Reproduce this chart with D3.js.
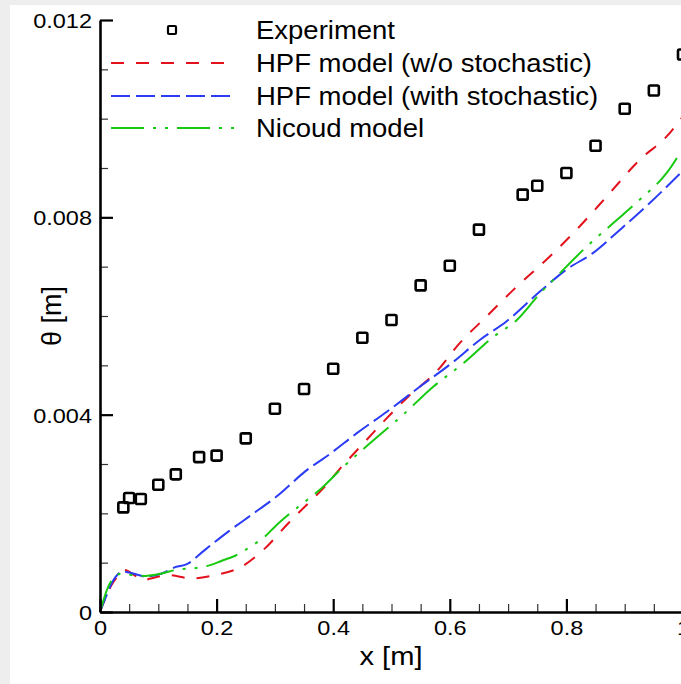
<!DOCTYPE html>
<html>
<head>
<meta charset="utf-8">
<script src="https://cdn.jsdelivr.net/npm/d3@7"></script>
<style>
body { margin: 0; background: #fff; }
svg { display: block; font-family: "Liberation Sans", Arial, sans-serif; }
</style>
</head>
<body>
<div class="chart"></div>
<script>
// experiment (squares)
var expX = [0.04, 0.05, 0.07, 0.1, 0.13, 0.17, 0.2, 0.25, 0.3, 0.35, 0.4, 0.45, 0.5, 0.55, 0.6, 0.65, 0.725, 0.75, 0.8, 0.85, 0.9, 0.95, 1.0];
var expY = [2.12, 2.31, 2.29, 2.58, 2.79, 3.14, 3.17, 3.52, 4.12, 4.52, 4.93, 5.56, 5.92, 6.62, 7.02, 7.75, 8.46, 8.64, 8.9, 9.45, 10.2, 10.57, 11.3];

// HPF model (w/o stochastic)
var redX = [0, 0.01, 0.02, 0.03, 0.042, 0.06, 0.074, 0.094, 0.117, 0.157, 0.197, 0.243, 0.283, 0.323, 0.363, 0.38, 0.415, 0.452, 0.492, 0.529, 0.577, 0.617, 0.663, 0.709, 0.778, 0.823, 0.869, 0.926, 0.972, 1.0];
var redY = [0, 0.3, 0.55, 0.72, 0.85, 0.74, 0.65, 0.7, 0.75, 0.68, 0.75, 0.92, 1.29, 1.8, 2.27, 2.47, 2.95, 3.42, 3.93, 4.37, 4.87, 5.45, 5.99, 6.53, 7.28, 7.82, 8.42, 9.17, 9.64, 10.05];

// HPF model (with stochastic)
var blueX = [0, 0.01, 0.02, 0.04, 0.057, 0.077, 0.106, 0.129, 0.149, 0.18, 0.22, 0.26, 0.306, 0.352, 0.394, 0.44, 0.492, 0.549, 0.606, 0.652, 0.697, 0.755, 0.8, 0.846, 0.892, 0.943, 1.0];
var blueY = [0, 0.3, 0.58, 0.82, 0.78, 0.72, 0.78, 0.91, 0.97, 1.26, 1.63, 1.97, 2.37, 2.85, 3.2, 3.62, 4.06, 4.57, 5.07, 5.52, 5.89, 6.5, 6.94, 7.28, 7.75, 8.29, 8.95];

// Nicoud model
var greenX = [0, 0.014, 0.026, 0.034, 0.054, 0.077, 0.106, 0.129, 0.169, 0.189, 0.209, 0.232, 0.26, 0.283, 0.3, 0.323, 0.352, 0.38, 0.412, 0.463, 0.52, 0.572, 0.623, 0.675, 0.715, 0.755, 0.789, 0.835, 0.88, 0.926, 0.972, 1.0];
var greenY = [0, 0.51, 0.72, 0.77, 0.75, 0.73, 0.78, 0.85, 0.9, 0.95, 1.04, 1.14, 1.34, 1.53, 1.73, 1.97, 2.24, 2.51, 2.88, 3.42, 4.0, 4.57, 5.04, 5.58, 5.92, 6.46, 6.87, 7.41, 7.88, 8.36, 8.9, 9.4];

var xTicks = [0, 0.2, 0.4, 0.6, 0.8, 1];
var xTickLabels = ["0", "0.2", "0.4", "0.6", "0.8", "1"];
var yTicks = [0, 0.004, 0.008, 0.012];
var yTickLabels = ["0", "0.004", "0.008", "0.012"];

var legendNames = ["Experiment", "HPF model (w/o stochastic)", "HPF model (with stochastic)", "Nicoud model"];

var width = 681, height = 684;
var sx = 1.12; // text in the picture is a bit wide

var x = d3.scaleLinear().domain([0, 1]).range([100, 683]);
var y = d3.scaleLinear().domain([0, 0.012]).range([612, 20]);

var svg = d3.select(".chart").append("svg")
    .attr("width", width)
    .attr("height", height);

// grey frame on the left and top
svg.append("rect").attr("width", width).attr("height", height).attr("fill", "#eeeeee");
svg.append("rect").attr("x", 10).attr("y", 5).attr("width", width - 10).attr("height", height - 5).attr("fill", "#fff");

function pairs(xs, ys) {
    return xs.map(function(v, i) { return [v, ys[i] / 1000]; });
}

var line = d3.line()
    .x(function(d) { return x(d[0]); })
    .y(function(d) { return y(d[1]); })
    .curve(d3.curveMonotoneX);

var series = [
    {data: pairs(redX, redY), color: "#e3111b", dash: "13,12"},
    {data: pairs(blueX, blueY), color: "#2b3cf5", dash: "19,6"},
    {data: pairs(greenX, greenY), color: "#17c90f", dash: "33,9,3,9,3,9"}
];

// minor ticks
var xMinor = d3.range(0, 1.0001, 0.05).filter(function(v) { return Math.abs(v * 5 - Math.round(v * 5)) > 1e-6; });
var yMinor = d3.range(0, 0.01201, 0.001).filter(function(v) { return Math.abs(v / 0.004 - Math.round(v / 0.004)) > 1e-6; });

svg.append("g")
    .attr("transform", "translate(0,612)")
    .call(d3.axisBottom(x).tickValues(xMinor).tickSize(-8).tickFormat(""))
    .call(function(g) { g.select(".domain").remove(); g.selectAll("line").attr("stroke", "#333").attr("stroke-width", 1.2); });

svg.append("g")
    .attr("transform", "translate(100,0)")
    .call(d3.axisLeft(y).tickValues(yMinor).tickSize(-8).tickFormat(""))
    .call(function(g) { g.select(".domain").remove(); g.selectAll("line").attr("stroke", "#333").attr("stroke-width", 1.2); });

// curves
svg.append("g").selectAll("path")
    .data(series)
    .enter()
    .append("path")
    .attr("d", function(d) { return line(d.data); })
    .attr("fill", "none")
    .attr("stroke", function(d) { return d.color; })
    .attr("stroke-width", 2)
    .attr("stroke-dasharray", function(d) { return d.dash; });

// experiment squares
svg.append("g").selectAll("rect")
    .data(pairs(expX, expY))
    .enter()
    .append("rect")
    .attr("x", function(d) { return x(d[0]) - 5; })
    .attr("y", function(d) { return y(d[1]) - 5; })
    .attr("width", 10)
    .attr("height", 10)
    .attr("rx", 1.5)
    .attr("fill", "none")
    .attr("stroke", "#000")
    .attr("stroke-width", 2.6);

// major axes
var xAxis = svg.append("g")
    .attr("transform", "translate(0,612)")
    .call(d3.axisBottom(x).tickValues(xTicks).tickSizeInner(-13).tickSizeOuter(0)
        .tickFormat(function(d, i) { return xTickLabels[i]; }));
xAxis.select(".domain").attr("stroke-width", 2.6).attr("stroke", "#000");
xAxis.selectAll("line").attr("stroke-width", 2.2).attr("stroke", "#000");
xAxis.selectAll("text")
    .attr("y", 0).attr("dy", 0)
    .attr("transform", "translate(0,23) scale(" + sx + ",1)")
    .attr("font-size", 21)
    .attr("font-family", "Liberation Sans, Arial, sans-serif")
    .attr("fill", "#000");

var yAxis = svg.append("g")
    .attr("transform", "translate(100,0)")
    .call(d3.axisLeft(y).tickValues(yTicks).tickSizeInner(-13).tickSizeOuter(0)
        .tickFormat(function(d, i) { return yTickLabels[i]; }));
yAxis.select(".domain").attr("stroke-width", 2.6).attr("stroke", "#000");
yAxis.selectAll("line").attr("stroke-width", 2.2).attr("stroke", "#000");
yAxis.selectAll("text")
    .attr("x", 0).attr("dy", "0.36em")
    .attr("transform", "translate(-8,0) scale(" + sx + ",1)")
    .attr("font-size", 21)
    .attr("font-family", "Liberation Sans, Arial, sans-serif")
    .attr("fill", "#000");

// axis titles
svg.append("text")
    .attr("transform", "translate(391,665) scale(" + sx + ",1)")
    .attr("text-anchor", "middle")
    .attr("font-size", 26)
    .text("x [m]");

svg.append("text")
    .attr("transform", "translate(61,316) rotate(-90)")
    .attr("text-anchor", "middle")
    .attr("font-size", 27)
    .text("θ [m]");

// legend
var legend = svg.append("g");
var rowY = [30, 63, 96, 128];

legend.append("rect")
    .attr("x", 168).attr("y", rowY[0] - 4)
    .attr("width", 8).attr("height", 8)
    .attr("rx", 1)
    .attr("fill", "none")
    .attr("stroke", "#000")
    .attr("stroke-width", 2.2);

legend.selectAll("line")
    .data(series)
    .enter()
    .append("line")
    .attr("x1", 111)
    .attr("x2", function(d, i) { return i == 0 ? 228 : 235; })
    .attr("y1", function(d, i) { return rowY[i + 1]; })
    .attr("y2", function(d, i) { return rowY[i + 1]; })
    .attr("stroke", function(d) { return d.color; })
    .attr("stroke-width", 2)
    .attr("stroke-dasharray", function(d) { return d.dash; });

legend.selectAll("text")
    .data(legendNames)
    .enter()
    .append("text")
    .attr("transform", function(d, i) { return "translate(256," + (rowY[i] + 9) + ") scale(1.1,1)"; })
    .attr("font-size", 25)
    .attr("fill", "#000")
    .text(function(d) { return d; });
</script>
</body>
</html>
